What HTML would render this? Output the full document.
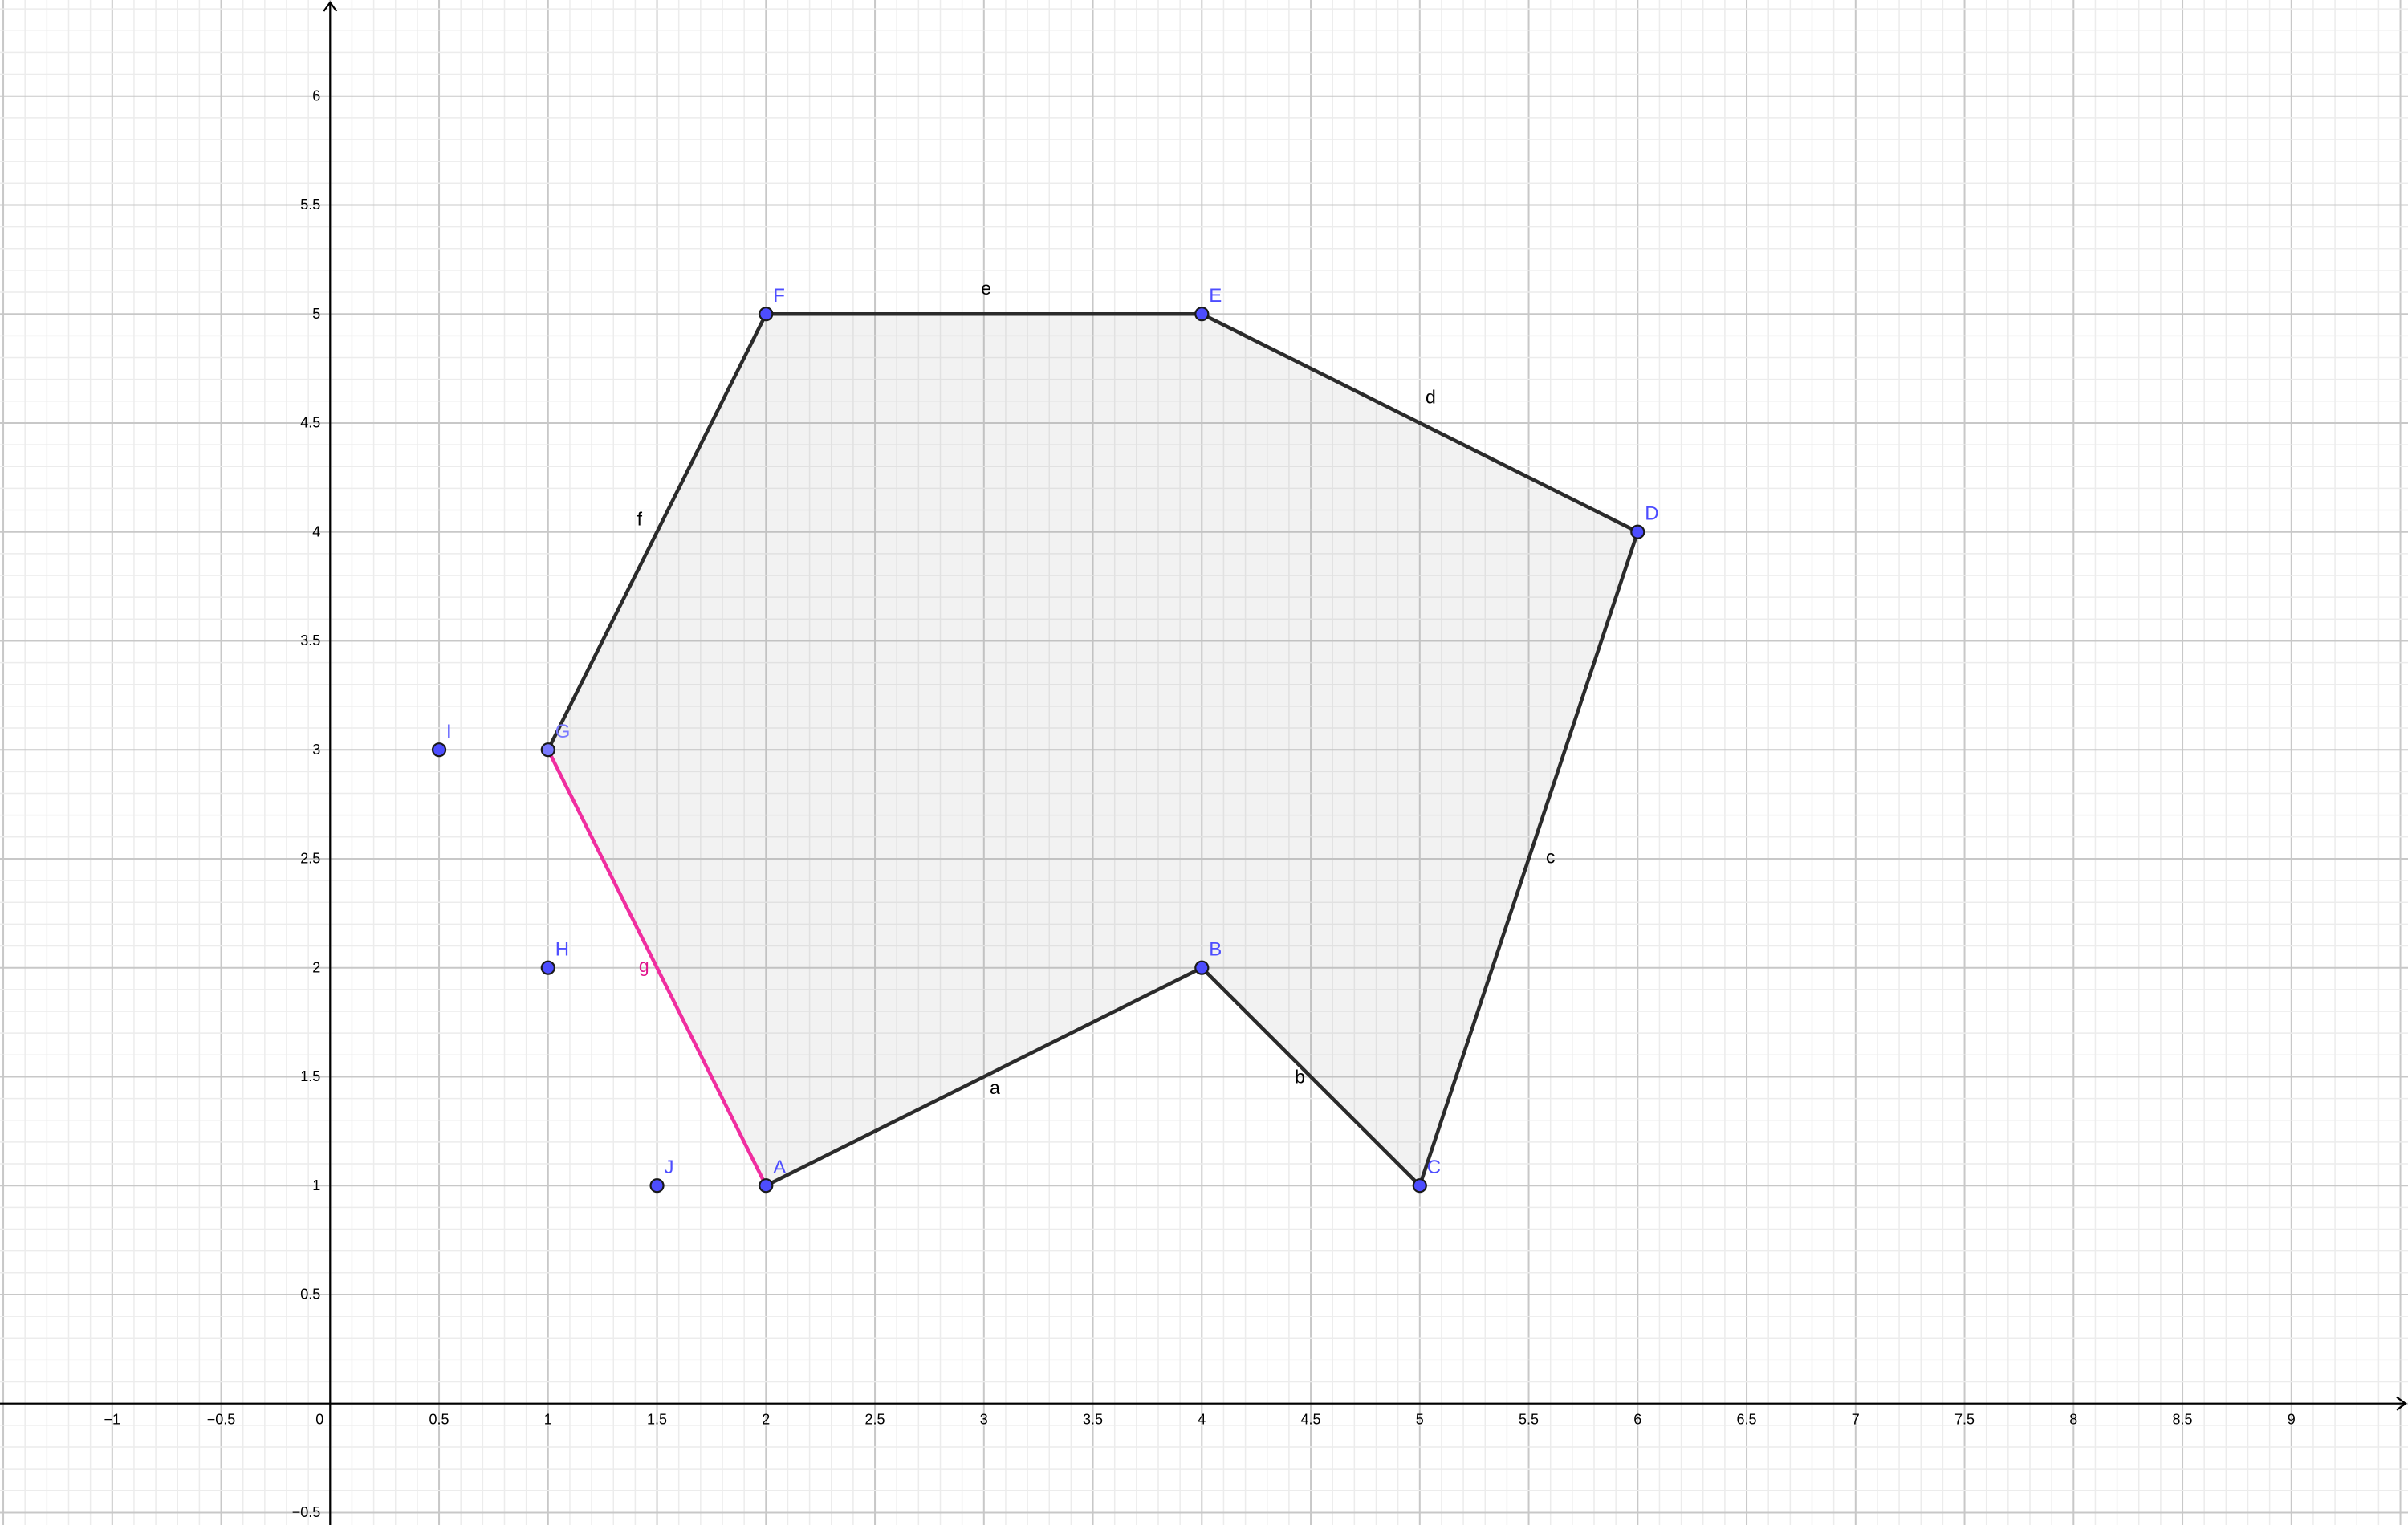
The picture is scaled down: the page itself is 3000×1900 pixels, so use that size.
<!DOCTYPE html>
<html><head><meta charset="utf-8"><style>html,body{margin:0;padding:0;background:#fff}svg{display:block}text{font-family:"Liberation Sans",sans-serif}</style></head>
<body>
<svg id="plot" xmlns="http://www.w3.org/2000/svg" width="3000" height="1900" viewBox="0 0 3000 1900"></svg>
<script>
const pointNames = ["A","B","C","D","E","F","G","H","I","J"];
const pointX = [2,4,5,6,4,2,1,1,0.5,1.5];
const pointY = [1,2,1,4,5,5,3,2,3,1];
const polygonOrder = ["A","B","C","D","E","F","G"];
const segmentNames = ["a","b","c","d","e","f","g"];
const segmentLabelX = [3.05,4.45,5.6,5.05,3.01,1.42,1.44];
const segmentLabelY = [1.42,1.47,2.48,4.59,5.09,4.03,1.98];
const xTicks = [-1,-0.5,0,0.5,1,1.5,2,2.5,3,3.5,4,4.5,5,5.5,6,6.5,7,7.5,8,8.5,9];
const yTicks = [-0.5,0.5,1,1.5,2,2.5,3,3.5,4,4.5,5,5.5,6];

const OX=411.3, OY=1748.7, U=271.5, W=3000, H=1900;
const sx=v=>OX+v*U, sy=v=>OY-v*U;
const svg=document.getElementById('plot');
const NS="http://www.w3.org/2000/svg";
function mk(tag,attrs,parent){const e=document.createElementNS(NS,tag);for(const k in attrs)e.setAttribute(k,attrs[k]);(parent||svg).appendChild(e);return e;}

const grid=mk('g',{});


for(let i=-16;i<=96;i++){const x=sx(i/10);if(x<0||x>W)continue;const major=i%5===0;
 mk('line',{x1:x,y1:0,x2:x,y2:H,stroke:major?'#c8c8c8':'#ececec','stroke-width':major?2:1.5},grid);}
for(let i=-6;i<=65;i++){const y=sy(i/10);if(y<0||y>H)continue;const major=i%5===0;
 mk('line',{x1:0,y1:y,x2:W,y2:y,stroke:major?'#c8c8c8':'#ececec','stroke-width':major?2:1.5},grid);}

const ax=mk('g',{stroke:'#000','stroke-width':2.2,fill:'none'});


mk('line',{x1:0,y1:OY,x2:W-2,y2:OY},ax);
mk('path',{d:`M${W-14} ${OY-8} L${W-3} ${OY} L${W-14} ${OY+8}`},ax);
mk('line',{x1:OX,y1:H,x2:OX,y2:2},ax);
mk('path',{d:`M${OX-8} 14 L${OX} 3 L${OX+8} 14`},ax);

const tl=mk('g',{fill:'#000','font-size':18});


xTicks.forEach(v=>{const t=mk('text',{x:v===0?OX-8:sx(v),y:OY+21,'text-anchor':v===0?'end':'middle','dominant-baseline':'middle'},tl);t.textContent=v<0?('\u2212'+Math.abs(v)):String(v);
 
 });
yTicks.forEach(v=>{const t=mk('text',{x:OX-12,y:sy(v)+1,'text-anchor':'end','dominant-baseline':'middle'},tl);t.textContent=v<0?('\u2212'+Math.abs(v)):String(v);
 
 });

const P=n=>{const i=pointNames.indexOf(n);return [sx(pointX[i]),sy(pointY[i])];};
const poly=mk('polygon',{points:polygonOrder.map(n=>P(n).join(',')).join(' '),fill:'#999','fill-opacity':0.13,stroke:'none'});


for(let k=0;k<polygonOrder.length;k++){const a=P(polygonOrder[k]),b=P(polygonOrder[(k+1)%polygonOrder.length]);
 const pink=segmentNames[k]==='g';
 const s=mk('line',{x1:a[0],y1:a[1],x2:b[0],y2:b[1],stroke:pink?'#f02ea0':'#2b2b2b','stroke-width':4.5,'stroke-linecap':'round'});
 
 
 const t=mk('text',{x:sx(segmentLabelX[k]),y:sy(segmentLabelY[k]),'font-size':23,fill:pink?'#e0148c':'#000','text-anchor':'middle'});
 t.textContent=segmentNames[k];
 
 }

pointNames.forEach((n,i)=>{const x=sx(pointX[i]),y=sy(pointY[i]);
 const c=mk('circle',{cx:x,cy:y,r:8,fill:n==='G'?'#7a7aff':'#4d4dff',stroke:'#1a1a1a','stroke-width':2.2});
 
 
 const t=mk('text',{x:x+9,y:y-15,'font-size':24,fill:n==='G'?'#7a7aff':'#4d4dff'});
 t.textContent=n;
 
 });
</script>
</body></html>
